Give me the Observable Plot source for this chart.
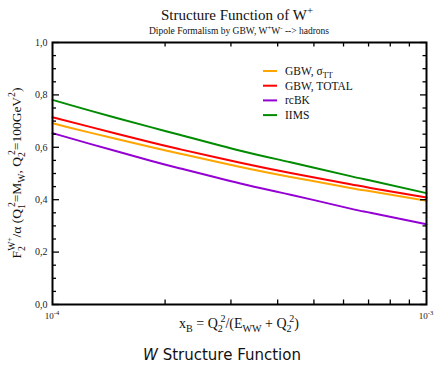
<!DOCTYPE html>
<html>
<head>
<meta charset="utf-8">
<script src="https://cdn.jsdelivr.net/npm/d3@7"></script>
<script src="https://cdn.jsdelivr.net/npm/@observablehq/plot@0.6"></script>
<style>
  body { margin: 0; background: white; }
  #chart { width: 434px; }
  #caption { font-family: "DejaVu Sans", sans-serif; font-size: 15px; text-align: center;
             line-height: 18px; margin-top: 6px; color: #111; padding-left: 10px; }
</style>
</head>
<body>
<div id="chart"></div>
<div id="caption"><i>W</i> Structure Function</div>
<script>
// Bjorken x sample points (log axis)
const xB = [1.0e-4, 1.26e-4, 1.83e-4, 2.2e-4, 3.18e-4, 4.33e-4, 6.26e-4, 7.08e-4, 1.0e-3];
// F2 / alpha for each model
const gbwTT    = [0.692, 0.656, 0.601, 0.575, 0.525, 0.487, 0.445, 0.432, 0.396];
const gbwTotal = [0.715, 0.678, 0.619, 0.592, 0.541, 0.502, 0.459, 0.445, 0.408];
const rcBK     = [0.654, 0.613, 0.549, 0.519, 0.462, 0.419, 0.366, 0.350, 0.306];
const iims     = [0.781, 0.740, 0.677, 0.647, 0.587, 0.543, 0.490, 0.473, 0.425];

const seriesKeys   = ["gbwTT", "gbwTotal", "rcBK", "iims"];
const seriesColors = ["#ffa500", "#ff0000", "#9400d3", "#008b00"];
const seriesValues = [gbwTT, gbwTotal, rcBK, iims];

// axis ticks
const yMajor = [0, 0.2, 0.4, 0.6, 0.8, 1.0];
const yMinor = [0.05, 0.1, 0.15, 0.25, 0.3, 0.35, 0.45, 0.5, 0.55, 0.65, 0.7, 0.75, 0.85, 0.9, 0.95];
const xMinor = [2e-4, 3e-4, 4e-4, 5e-4, 6e-4, 7e-4, 8e-4, 9e-4];
const xLabels = [{v: 1e-4, exp: "-4"}, {v: 1e-3, exp: "-3"}];

const rows = seriesKeys.flatMap((k, s) => xB.map((x, i) => ({series: k, x, y: seriesValues[s][i]})));

const W = 434, H = 340, mT = 42, mL = 52, mR = 8, mB = 36;
const innerW = W - mL - mR, innerH = H - mT - mB;

const plot = Plot.plot({
  width: W, height: H,
  marginTop: mT, marginLeft: mL, marginRight: mR, marginBottom: mB,
  style: {fontFamily: "'Liberation Serif', 'Times New Roman', serif", fontSize: "10px", background: "white", overflow: "visible"},
  x: {type: "log", domain: [1e-4, 1e-3], axis: null},
  y: {domain: [0, 1], axis: null},
  color: {domain: seriesKeys, range: seriesColors},
  marks: [
    Plot.line(rows, {x: "x", y: "y", z: "series", stroke: "series", strokeWidth: 2, curve: "natural"}),
    // inward ticks on all four sides
    Plot.ruleY(yMajor, {y: d => d, insetRight: innerW - 7, stroke: "black", strokeWidth: 1.3}),
    Plot.ruleY(yMinor, {y: d => d, insetRight: innerW - 4, stroke: "black", strokeWidth: 1.3}),
    Plot.ruleY(yMajor, {y: d => d, insetLeft: innerW - 6, stroke: "black", strokeWidth: 1.3}),
    Plot.ruleY(yMinor, {y: d => d, insetLeft: innerW - 3.5, stroke: "black", strokeWidth: 1.3}),
    Plot.ruleX(xMinor, {x: d => d, insetTop: innerH - 4.5, stroke: "black", strokeWidth: 1.3}),
    Plot.ruleX(xMinor, {x: d => d, insetBottom: innerH - 4.5, stroke: "black", strokeWidth: 1.3}),
    Plot.frame({stroke: "black", strokeWidth: 2}),
    Plot.axisY(yMajor, {tickSize: 0, tickPadding: 5, fontSize: 10, fill: "#222", label: null,
      tickFormat: d => d.toFixed(1).replace(".", ",")})
  ]
});
document.getElementById("chart").appendChild(plot);

const svg = d3.select(plot);
const xs = plot.scale("x"), ys = plot.scale("y");
const serif = "'Liberation Serif', 'Times New Roman', serif";

// text with sub/superscripts built from tspans
function rich(parent, parts, size) {
  const t = parent.append("text").attr("font-family", serif).attr("font-size", size)
    .attr("fill", "#111").attr("text-anchor", "start");
  let shift = 0;
  for (const p of parts) {
    let target = 0, fs = size;
    if (p.sub) { target = size * 0.3; fs = size * 0.72; }
    if (p.sup) { target = -size * 0.42; fs = size * 0.72; }
    if (p.sup2) { target = -size * 0.7; fs = size * 0.55; }
    const ts = t.append("tspan").text(p.t).attr("dy", target - shift).attr("font-size", fs);
    if (p.back) ts.attr("dx", -p.back);
    shift = target;
  }
  return t;
}

// title and subtitle
rich(svg, [{t: "Structure Function of W"}, {t: "+", sup: true}], 15)
  .attr("x", 237).attr("y", 20).attr("text-anchor", "middle");
rich(svg, [{t: "Dipole Formalism by GBW, W"}, {t: "+", sup: true}, {t: "W"}, {t: "-", sup: true}, {t: " --> hadrons"}], 9.5)
  .attr("x", 239).attr("y", 34).attr("text-anchor", "middle");

// x tick labels
for (const l of xLabels) {
  rich(svg, [{t: "10"}, {t: l.exp, sup: true}], 9)
    .attr("x", xs.apply(l.v)).attr("y", ys.apply(0) + 15).attr("text-anchor", "middle");
}

// x axis title
rich(svg, [{t: "x"}, {t: "B", sub: true}, {t: " = Q"}, {t: "2", sub: true}, {t: "2", sup: true, back: 2.5},
           {t: "/(E"}, {t: "WW", sub: true}, {t: " + Q"}, {t: "2", sub: true}, {t: "2", sup: true, back: 2.5}, {t: ")"}], 14)
  .attr("x", (xs.apply(1e-4) + xs.apply(1e-3)) / 2).attr("y", 328).attr("text-anchor", "middle");

// y axis title
rich(svg, [{t: "F"}, {t: "2", sub: true}, {t: "W", sup: true, back: 4.7}, {t: "+", sup2: true}, {t: "/α (Q"},
           {t: "1", sub: true}, {t: "2", sup: true, back: 3}, {t: "=M"}, {t: "W", sub: true}, {t: ", Q"},
           {t: "2", sub: true}, {t: "2", sup: true, back: 3}, {t: "=100GeV"}, {t: "2", sup: true}, {t: ")"}], 13.5)
  .attr("text-anchor", "middle")
  .attr("transform", `translate(21,${(ys.apply(0) + ys.apply(1)) / 2}) rotate(-90)`);

// legend
const legendLabels = [
  [{t: "GBW, σ"}, {t: "TT", sub: true}],
  [{t: "GBW, TOTAL"}],
  [{t: "rcBK"}],
  [{t: "IIMS"}]
];
const lg = svg.append("g");
legendLabels.forEach((parts, i) => {
  const y = 71 + i * 14.7;
  lg.append("line").attr("x1", 263).attr("x2", 277).attr("y1", y).attr("y2", y)
    .attr("stroke", seriesColors[i]).attr("stroke-width", 2);
  rich(lg, parts, 11.5).attr("x", 285).attr("y", y + 4);
});
</script>
</body>
</html>
